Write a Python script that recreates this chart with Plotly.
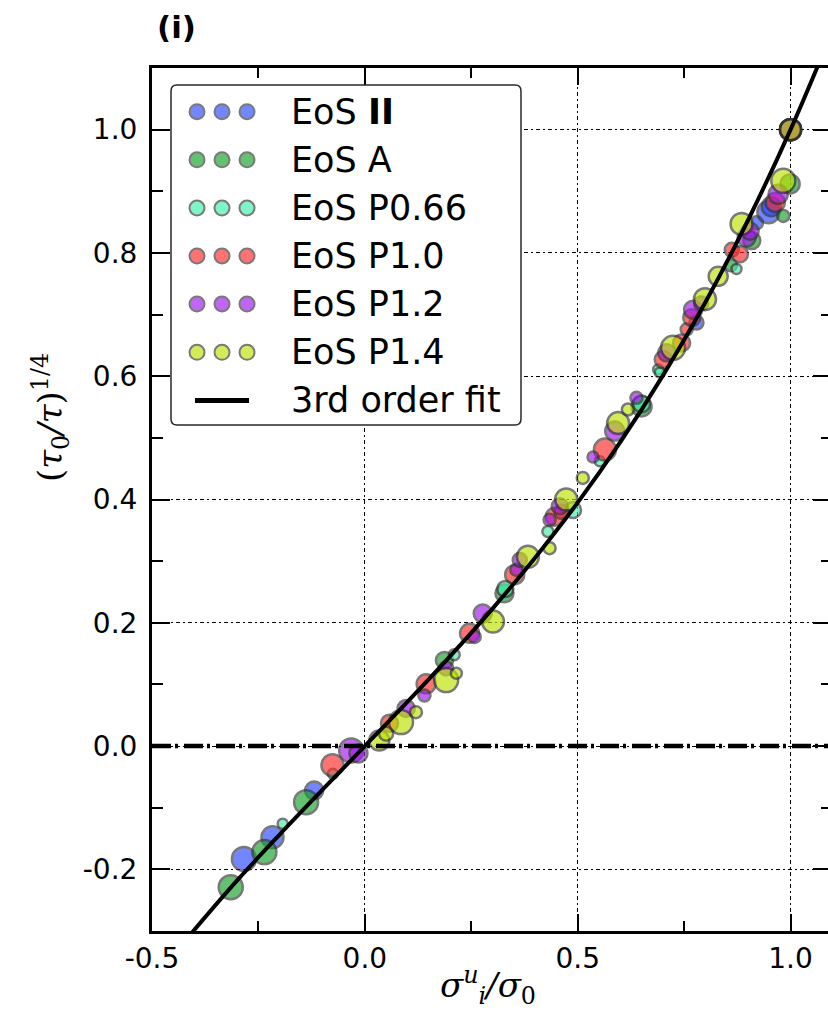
import plotly.graph_objects as go

# ---------------- data ----------------
eos_names = ["EoS <b>II</b>", "EoS A", "EoS P0.66", "EoS P1.0", "EoS P1.2", "EoS P1.4"]
eos_colors = ["rgb(40,70,255)", "rgb(20,160,40)", "rgb(60,240,170)",
              "rgb(255,40,40)", "rgb(160,20,240)", "rgb(190,225,0)"]

ii_x = [-0.284, -0.217, -0.119, 0.779, 0.92, 0.948, 0.955, 1.0]
ii_y = [-0.183, -0.148, -0.072, 0.687, 0.849, 0.866, 0.875, 1.0]
ii_s = [24, 22, 18, 14, 13, 22, 19, 21]

a_x = [-0.315, -0.236, -0.138, 0.187, 0.328, 0.65, 0.86, 0.909, 0.983, 0.999, 1.0]
a_y = [-0.229, -0.172, -0.091, 0.139, 0.248, 0.551, 0.78, 0.82, 0.86, 0.912, 1.0]
a_s = [24, 24, 24, 17, 18, 20, 12, 17, 12, 19, 21]

p066_x = [-0.193, -0.075, 0.21, 0.33, 0.43, 0.489, 0.552, 0.65, 0.689, 0.693, 0.873, 1.0]
p066_y = [-0.126, -0.045, 0.148, 0.255, 0.348, 0.383, 0.462, 0.555, 0.611, 0.606, 0.774, 1.0]
p066_s = [10, 10, 11, 16, 11, 16, 10, 17, 10, 10, 10, 21]

p10_x = [-0.076, 0.058, 0.144, 0.246, 0.352, 0.446, 0.462, 0.564, 0.701, 0.744, 0.756, 0.768, 0.862, 0.881, 0.964, 1.0]
p10_y = [-0.031, 0.037, 0.101, 0.183, 0.278, 0.372, 0.380, 0.481, 0.627, 0.654, 0.676, 0.695, 0.805, 0.798, 0.882, 1.0]
p10_s = [22, 17, 19, 19, 19, 18, 14, 22, 17, 17, 12, 17, 14, 16, 19, 21]

p12_x = [-0.032, -0.015, 0.097, 0.14, 0.191, 0.258, 0.277, 0.356, 0.364, 0.434, 0.458, 0.536, 0.587, 0.638, 0.709, 0.771, 0.79, 0.897, 0.905, 0.971, 1.0]
p12_y = [-0.007, -0.012, 0.061, 0.082, 0.126, 0.177, 0.215, 0.286, 0.302, 0.367, 0.389, 0.469, 0.511, 0.565, 0.638, 0.708, 0.718, 0.825, 0.835, 0.895, 1.0]
p12_s = [24, 18, 17, 12, 14, 12, 18, 12, 14, 12, 16, 11, 19, 12, 17, 18, 14, 18, 17, 19, 21]

p14_x = [0.034, 0.05, 0.085, 0.12, 0.191, 0.215, 0.301, 0.383, 0.434, 0.473, 0.512, 0.595, 0.618, 0.724, 0.799, 0.83, 0.885, 0.983, 1.0]
p14_y = [0.009, 0.02, 0.039, 0.055, 0.107, 0.118, 0.202, 0.307, 0.321, 0.400, 0.435, 0.524, 0.546, 0.646, 0.725, 0.762, 0.847, 0.917, 1.0]
p14_s = [20, 14, 24, 12, 24, 11, 22, 22, 12, 22, 12, 22, 12, 24, 22, 19, 22, 24, 21]

# 3rd order fit curve
fit_x = [-0.42, -0.3, -0.2, -0.1, 0.0, 0.1, 0.2, 0.3, 0.4, 0.5, 0.6, 0.7, 0.8, 0.9, 1.0, 1.1]
fit_y = [-0.314, -0.218, -0.1435, -0.0712, 0.0, 0.0717, 0.1455, 0.223, 0.3057, 0.395,
         0.493, 0.601, 0.720, 0.853, 1.0, 1.163]

x_ticks = [-0.5, 0.0, 0.5, 1.0]
x_ticktext = ["-0.5", "0.0", "0.5", "1.0"]
y_ticks = [-0.2, 0.0, 0.2, 0.4, 0.6, 0.8, 1.0]
y_ticktext = ["-0.2", "0.0", "0.2", "0.4", "0.6", "0.8", "1.0"]

series = [(ii_x, ii_y, ii_s), (a_x, a_y, a_s), (p066_x, p066_y, p066_s),
          (p10_x, p10_y, p10_s), (p12_x, p12_y, p12_s), (p14_x, p14_y, p14_s)]

# ---------------- layout geometry ----------------
W, H = 828, 1013
ML, MR, MT, MB = 152, 0, 68, 82
PW, PH = W - ML - MR, H - MT - MB
X_RANGE = [-0.5, 1.088]
Y_RANGE = [-0.3, 1.1]
OPAC = 0.65
EDGE = "rgb(50,50,50)"


def px2paper(px, py):
    return (px - ML) / PW, (H - MB - py) / PH


fig = go.Figure()

for (xs, ys, ss), name, col in zip(series, eos_names, eos_colors):
    fig.add_trace(go.Scatter(
        x=xs, y=ys, mode="markers", name=name, showlegend=False,
        marker=dict(size=ss, color=col, opacity=OPAC,
                    line=dict(color=EDGE, width=2.5)),
    ))

fig.add_trace(go.Scatter(x=fit_x, y=fit_y, mode="lines", line_shape="spline",
                         line=dict(color="black", width=4), showlegend=False))

# invisible trace to carry the right-hand tick axis
fig.add_trace(go.Scatter(x=[None], y=[None], yaxis="y2", showlegend=False))

# thick dash-dot zero line
fig.add_hline(y=0, line=dict(color="black", width=4.5, dash="19px,4px,3px,6px"),
              layer="above")

grid_dash = "4px,3px,2px,3px"
tick_font = dict(family="DejaVu Sans", size=28, color="black")

fig.update_layout(
    width=W, height=H,
    margin=dict(l=ML, r=MR, t=MT, b=MB, pad=0),
    paper_bgcolor="white", plot_bgcolor="white",
    showlegend=False,
    xaxis=dict(range=X_RANGE, tickvals=x_ticks, ticktext=x_ticktext,
               ticks="inside", ticklen=17, tickwidth=2, tickcolor="black",
               showline=True, linewidth=3, linecolor="black", mirror="ticks",
               showgrid=True, gridcolor="black", gridwidth=1.3, griddash=grid_dash,
               zeroline=False, tickfont=tick_font,
               minor=dict(dtick=0.25, tick0=-0.5, ticks="inside", ticklen=10,
                          tickwidth=1.5, tickcolor="black", showgrid=False)),
    yaxis=dict(range=Y_RANGE, tickvals=y_ticks, ticktext=y_ticktext,
               ticks="inside", ticklen=18, tickwidth=2, tickcolor="black",
               showline=True, linewidth=3, linecolor="black", mirror=False,
               showgrid=True, gridcolor="black", gridwidth=1.3, griddash=grid_dash,
               zeroline=False, tickfont=tick_font, ticklabelstandoff=6,
               minor=dict(dtick=0.1, tick0=0, ticks="inside", ticklen=11,
                          tickwidth=1.5, tickcolor="black", showgrid=False)),
    yaxis2=dict(range=Y_RANGE, overlaying="y", side="right", tickvals=y_ticks,
                ticks="inside", ticklen=15, tickwidth=2, tickcolor="black",
                showticklabels=False, showline=False, showgrid=False, zeroline=False,
                minor=dict(dtick=0.1, tick0=0, ticks="inside", ticklen=7,
                           tickwidth=1.5, tickcolor="black", showgrid=False)),
)

# ---------------- custom legend (matplotlib style, 3 scatter points) ----------------
bx0, by0, bx1, by1 = 171, 85, 521, 425
r = 6
x0p, y0p = px2paper(bx0, by0)
x1p, y1p = px2paper(bx1, by1)
rx, ry = r / PW, r / PH
path = (f"M {x0p+rx},{y0p} L {x1p-rx},{y0p} Q {x1p},{y0p} {x1p},{y0p-ry} "
        f"L {x1p},{y1p+ry} Q {x1p},{y1p} {x1p-rx},{y1p} "
        f"L {x0p+rx},{y1p} Q {x0p},{y1p} {x0p},{y1p+ry} "
        f"L {x0p},{y0p-ry} Q {x0p},{y0p} {x0p+rx},{y0p} Z")
fig.add_shape(type="path", path=path, xref="paper", yref="paper",
              fillcolor="white", line=dict(color="rgb(40,40,40)", width=1.5),
              layer="above")

row_y = [111.7, 159.8, 208.0, 256.0, 304.0, 352.3, 400.4]
dot_x = [197, 222, 247]
dot_d = 15
for i, (name, col) in enumerate(zip(eos_names, eos_colors)):
    for dx in dot_x:
        ax, ay = px2paper(dx, row_y[i])
        fig.add_shape(type="circle", xref="paper", yref="paper",
                      xsizemode="pixel", ysizemode="pixel",
                      xanchor=ax, yanchor=ay,
                      x0=-dot_d / 2, x1=dot_d / 2, y0=-dot_d / 2, y1=dot_d / 2,
                      fillcolor=col, opacity=OPAC,
                      line=dict(color=EDGE, width=2), layer="above")
    tx, ty = px2paper(289, row_y[i])
    fig.add_annotation(x=tx, y=ty, xref="paper", yref="paper", text=name,
                       showarrow=False, xanchor="left", yanchor="middle",
                       font=dict(family="DejaVu Sans", size=35, color="black"))

lx0, ly = px2paper(195, row_y[6])
lx1, _ = px2paper(249, row_y[6])
fig.add_shape(type="line", xref="paper", yref="paper", x0=lx0, x1=lx1, y0=ly, y1=ly,
              line=dict(color="black", width=5), layer="above")
tx, ty = px2paper(289, row_y[6])
fig.add_annotation(x=tx, y=ty, xref="paper", yref="paper", text="3rd order fit",
                   showarrow=False, xanchor="left", yanchor="middle",
                   font=dict(family="DejaVu Sans", size=35, color="black"))

# ---------------- titles / labels ----------------
tx, ty = px2paper(155, 27)
fig.add_annotation(x=tx, y=ty, xref="paper", yref="paper", text="<b>(i)</b>",
                   showarrow=False, xanchor="left", yanchor="middle",
                   font=dict(family="DejaVu Sans", size=31, color="black"))

tx, ty = px2paper(488, 985)
fig.add_annotation(x=tx, y=ty, xref="paper", yref="paper",
                   text="<i>σ</i><sup><i>u</i></sup><sub><i>i</i></sub><i>/σ</i><sub>0</sub>",
                   showarrow=False, xanchor="center", yanchor="middle",
                   font=dict(family="DejaVu Serif", size=34, color="black"))

tx, ty = px2paper(50, 418)
fig.add_annotation(x=tx, y=ty, xref="paper", yref="paper", textangle=-90,
                   text="(<i>τ</i><sub>0</sub><i>/τ</i>)<sup>1/4</sup>",
                   showarrow=False, xanchor="center", yanchor="middle",
                   font=dict(family="DejaVu Serif", size=34, color="black"))

fig.write_html("out.html")
